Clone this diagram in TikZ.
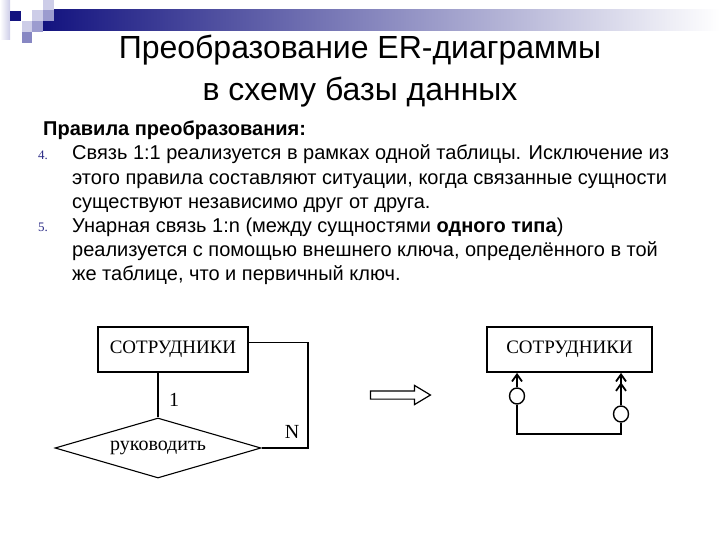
\documentclass[tikz,border=0pt]{standalone}
\usepackage{fontspec}
\setmainfont{Liberation Sans}
\newfontfamily\timesf{Liberation Serif}
\usetikzlibrary{arrows.meta,shapes.geometric,shapes.arrows,positioning}
\definecolor{barblue}{HTML}{13137F}
\definecolor{numblue}{HTML}{2B2B86}
\definecolor{sqlight}{HTML}{CDCDE8}
\definecolor{sqmid}{HTML}{9C9CCF}

\begin{document}
\begin{tikzpicture}[x=1pt, y=-1pt,
  entity/.style={rectangle, draw, line width=1.3pt, minimum height=45pt, inner sep=0pt, font=\timesf\fontsize{19}{23}\selectfont},
  relship/.style={diamond, draw, line width=1.1pt, minimum width=206pt, minimum height=60pt, aspect=3.43, inner sep=0pt, font=\timesf\fontsize{20}{24}\selectfont},
  card/.style={font=\timesf\fontsize{20}{24}\selectfont},
  ring/.style={ellipse, draw, line width=1.4pt, fill=white, inner sep=0pt, minimum width=15pt, minimum height=16pt},
  fk/.style={line width=1.8pt},
  num/.style={anchor=base west, inner sep=0pt, text=numblue, font=\timesf\fontsize{13}{16}\selectfont},
  body/.style={anchor=base west, inner sep=0pt, align=left, font=\fontsize{20}{24}\selectfont}
]
  \useasboundingbox (0,0) rectangle (720,540);

  % header decoration
  \shade[left color=barblue, middle color=barblue!70!white, right color=white] (43,10) rectangle (720,31);
  \shade[left color=white, right color=sqlight] (0,0) rectangle (10,40);
  \fill[barblue] (10,11) rectangle (21,21);
  \fill[sqlight] (43,0) rectangle (54,10);
  \fill[sqlight] (32,10) rectangle (43,21);
  \fill[sqmid] (43,10) rectangle (54,21);
  \fill[sqlight] (22,21) rectangle (32,32);
  \fill[sqmid] (32,21) rectangle (43,32);
  \fill[sqmid!85!barblue] (22,32) rectangle (32,43);

  % title
  \node[anchor=base, font=\fontsize{32}{40}\selectfont] (title1) at (360,59) {Преобразование ER-диаграммы};
  \node[anchor=base, font=\fontsize{32}{40}\selectfont] (title2) at (360,101) {в схему базы данных};

  % rules (base = last line)
  \node[anchor=base west, inner sep=0pt, font=\bfseries\fontsize{20}{24}\selectfont] (rules) at (43,136) {Правила преобразования:};
  \node[num] (n4) at (38,160) {4.};
  \node[body] (r4) at (72,208) {Связь 1:1 реализуется в рамках одной таблицы. Исключение из\\
    этого правила составляют ситуации, когда связанные сущности\\
    существуют независимо друг от друга.};
  \node[num] (n5) at (38,232) {5.};
  \node[body] (r5) at (72,280) {Унарная связь 1:n (между сущностями \textbf{одного типа})\\
    реализуется с помощью внешнего ключа, определённого в той\\
    же таблице, что и первичный ключ.};

  % ER diagram
  \node[entity, minimum width=150pt] (emp) at (173,349.5) {СОТРУДНИКИ};
  \node[relship] (rel) at (158,448) {руководить};
  \coordinate (loop) at (308,448);
  \draw[line width=1.1pt] (emp.south -| rel.north) -- (rel.north);
  \draw[line width=1.1pt] ([yshift=7pt]emp.east) -| (loop) -- (rel.east);
  \node[card] (one) at (174,400) {1};
  \node[card] (many) at (292,432) {N};

  % transformation arrow
  \node[single arrow, draw, line width=1.2pt, fill=white, minimum height=60pt, minimum width=18pt,
        inner sep=3.5pt, single arrow head extend=5.5pt, single arrow tip angle=62] (go) at (397,395) {};

  % relational schema
  \node[entity, line width=1.8pt, minimum width=165pt] (tab) at (569.5,349.5) {СОТРУДНИКИ};
  \coordinate (fkL) at (517,434);
  \coordinate (fkR) at (621,434);
  \node[ring] (cL) at (517,396) {};
  \node[ring] (cR) at (621,414) {};
  \draw[fk] (cL) -- (fkL) -- (fkR) -- (cR);
  \draw[fk, -{Straight Barb[length=7pt, width=10pt]}] (cL) -- (cL |- tab.south);
  \draw[fk, -{Straight Barb[length=7pt, width=10pt] Straight Barb[length=7pt, width=10pt]}] (cR) -- (cR |- tab.south);
\end{tikzpicture}
\end{document}
